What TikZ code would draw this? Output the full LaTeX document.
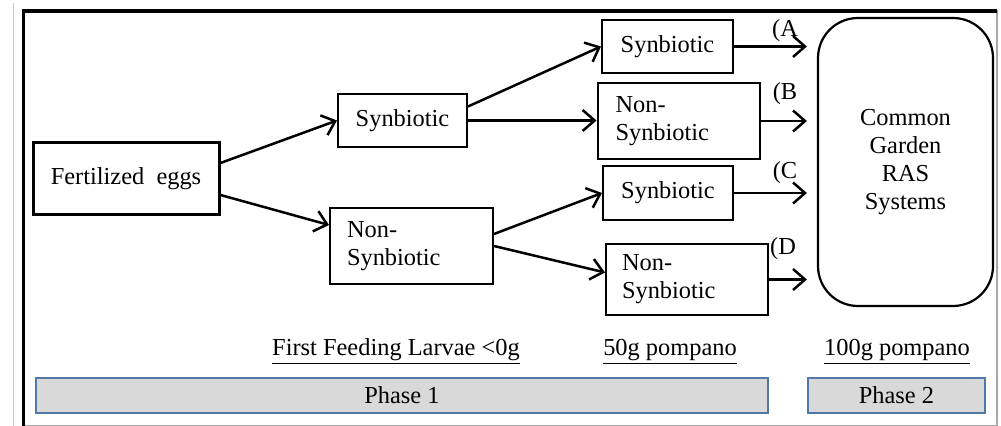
\documentclass[tikz,border=0pt]{standalone}
\usepackage{fontspec}
\setmainfont{Liberation Serif}
\usetikzlibrary{arrows.meta,positioning}

\definecolor{phaseblue}{HTML}{4F79A6}
\definecolor{phasegray}{HTML}{D9D9D9}

\begin{document}
\begin{tikzpicture}[
  x=0.5pt, y=-0.5pt,
  font=\fontsize{12.2}{14}\selectfont,
  box/.style={draw, line width=1pt, inner sep=0pt, align=center},
  twoline/.style={draw, line width=1pt, align=left, inner xsep=8.5pt, inner ysep=0pt},
  phase/.style={draw=phaseblue, fill=phasegray, line width=1.2pt, inner sep=0pt},
  lbl/.style={inner sep=0pt},
  arrow/.style={-{Straight Barb[length=6pt, width=10.5pt]}, line width=1.25pt},
]
\useasboundingbox (0,0) rectangle (1001,426);

% ===== page frame =====
\draw[gray!45, line width=0.5pt] (13,3) -- (13,426);
\draw[gray!70, line width=0.6pt] (997,10) -- (997,426) (23,425.5) -- (997,425.5);
\draw[line width=1.6pt] (23.5,426) -- (23.5,11) -- (997,11);

% ===== start =====
\node[box, line width=1.5pt, minimum width=93pt, minimum height=36pt] (eggs) at (126,179) {Fertilized\ \ eggs};

% ===== first feeding =====
\node[box, minimum width=64.5pt, minimum height=26.5pt] (syn1) at (402.5,120.5) {Synbiotic};
\node[twoline, text width=64.5pt, minimum height=38pt] (non1) at (411.5,246) {Non-\\Synbiotic};

\draw[arrow] ([yshift=8pt]eggs.east) -- (syn1.west);
\draw[arrow] ([yshift=-8pt]eggs.east) -- ([yshift=10.5pt]non1.west);

% ===== 50g stage =====
\node[box, minimum width=65.5pt, minimum height=26.5pt] (synA) at (667.5,46.5) {Synbiotic};
\node[twoline, text width=63pt, inner xsep=9pt, minimum height=38pt] (nonB) at (678.5,121) {Non-\\Synbiotic};
\node[box, minimum width=65pt, minimum height=27pt] (synC) at (668,193) {Synbiotic};
\node[twoline, text width=65pt, inner xsep=8pt, minimum height=35.5pt] (nonD) at (687,279.5) {Non-\\Synbiotic};

\draw[arrow] ([yshift=7pt]syn1.east) -- (synA.west);
\draw[arrow] (syn1.east) -- (syn1.east -| nonB.west);
\draw[arrow] ([yshift=6pt]non1.east) -- (synC.west);
\draw[arrow] (non1.east) -- ([yshift=3.5pt]nonD.west);

% ===== phase 2 =====
\node[draw, line width=1.1pt, rounded corners=20pt, minimum width=87.5pt, minimum height=144pt,
      align=center, inner sep=0pt] (ras) at (905.5,162) {Common\\Garden\\RAS\\Systems};

\draw[arrow, shorten >=5pt] (synA.east) -- (synA.east -| ras.west);
\draw[arrow, shorten >=5pt] (nonB.east) -- (nonB.east -| ras.west);
\draw[arrow, shorten >=5pt] (synC.east) -- (synC.east -| ras.west);
\draw[arrow, shorten >=5pt] (nonD.east) -- (nonD.east -| ras.west);

\node[lbl] (labA) at (785,31) {(A};
\node[lbl] (labB) at (785,94) {(B};
\node[lbl] (labC) at (785,173) {(C};
\node[lbl] (labD) at (783,249) {(D};

% ===== sizes and phases =====
\node[lbl] (size1) at (396,352) {\underline{First Feeding Larvae <0g}};
\node[lbl] (size2) at (670,352) {\underline{50g pompano}};
\node[lbl] (size3) at (897,352) {\underline{100g pompano}};

\node[phase, minimum width=366pt, minimum height=17.5pt] (phase1) at (402,395.5) {Phase 1};
\node[phase, minimum width=88.5pt, minimum height=17.5pt] (phase2) at (896.5,395.5) {Phase 2};

\end{tikzpicture}
\end{document}
